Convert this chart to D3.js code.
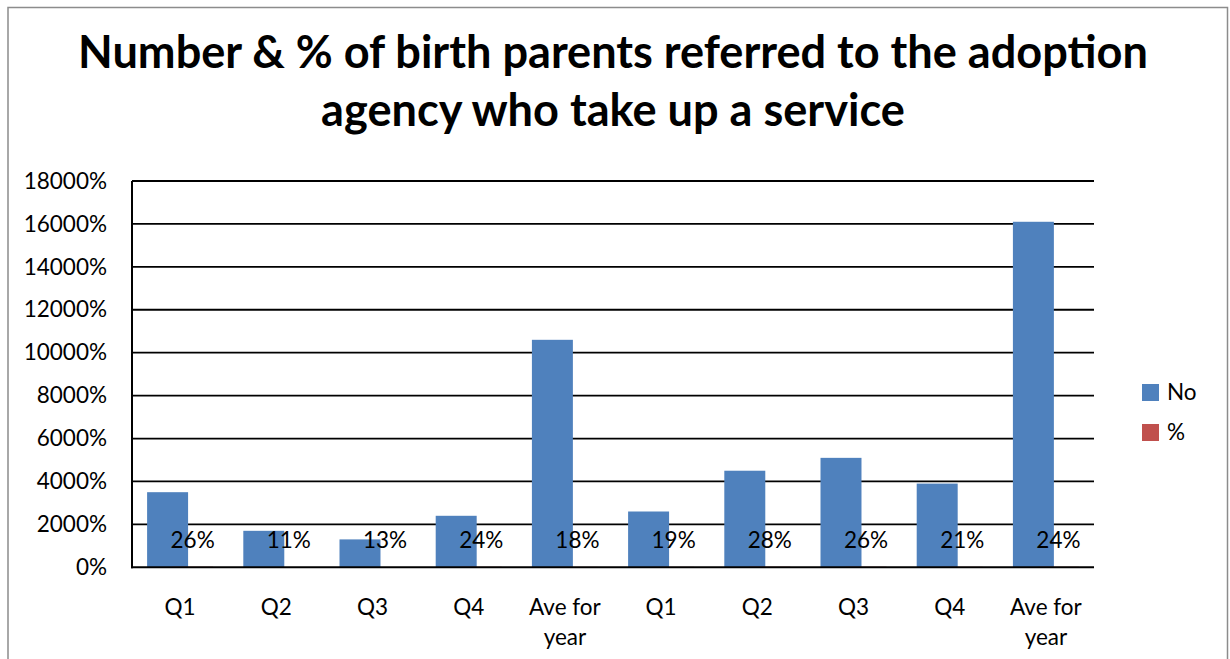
<!DOCTYPE html>
<html>
<head>
<meta charset="utf-8">
<script src="https://cdn.jsdelivr.net/npm/d3@7"></script>
<style>
  body { margin: 0; background: #fff; }
  svg { display: block; font-family: Lato, "Open Sans", sans-serif; }
</style>
</head>
<body>
<div id="chart"></div>
<script>
// values
const categories = ["Q1", "Q2", "Q3", "Q4", "Ave for year", "Q1", "Q2", "Q3", "Q4", "Ave for year"];
const noValues = [35, 17, 13, 24, 106, 26, 45, 51, 39, 161];
const pctValues = [0.26, 0.11, 0.13, 0.24, 0.18, 0.19, 0.28, 0.26, 0.21, 0.24];
const yTicks = [0, 20, 40, 60, 80, 100, 120, 140, 160, 180];
const seriesNames = ["No", "%"];
const titleLines = ["Number & % of birth parents referred to the adoption", "agency who take up a service"];

var width = 1230, height = 659;
var margin = {top: 181, right: 136, bottom: 92, left: 132};
var colors = ["#4F81BD", "#C0504D"];
var pctFmt = d3.format(".0%");
var fs = "22.5px";

const svg = d3.select("#chart").append("svg")
    .attr("width", width)
    .attr("height", height);

// chart frame
svg.append("rect")
    .attr("x", 8).attr("y", 7.5)
    .attr("width", 1219.5).attr("height", 670)
    .attr("fill", "#fff")
    .attr("stroke", "#8c8c8c")
    .attr("stroke-width", 1.5);

// title, sized so the first line spans the same width as the original
const title = svg.append("g");
titleLines.forEach((t, i) => {
  title.append("text")
    .attr("x", 613)
    .attr("y", 68 + i * 58)
    .attr("text-anchor", "middle")
    .style("font-weight", "bold")
    .style("font-size", "42px")
    .text(t);
});
var w0 = title.select("text").node().getComputedTextLength();
title.selectAll("text").style("font-size", (42 * 1070 / w0) + "px");

const x = d3.scaleBand()
    .domain(d3.range(categories.length))
    .range([margin.left, width - margin.right]);

const y = d3.scaleLinear()
    .domain([0, 180])
    .range([height - margin.bottom + 0.3, margin.top]);

// gridlines
svg.append("g")
  .selectAll("line")
  .data(yTicks.slice(1))
  .enter().append("line")
    .attr("x1", margin.left).attr("x2", width - margin.right)
    .attr("y1", d => y(d)).attr("y2", d => y(d))
    .attr("stroke", "#000")
    .attr("stroke-width", 1.8);

// y axis labels
const yAxis = svg.append("g")
    .attr("transform", `translate(${margin.left},0)`)
    .call(d3.axisLeft(y).tickValues(yTicks).tickSize(0).tickPadding(25).tickFormat(pctFmt));
yAxis.select(".domain").remove();
yAxis.selectAll("text")
    .style("font-family", "Lato, sans-serif")
    .style("font-size", fs)
    .attr("fill", "#000");

var bw = x.bandwidth();
var barW = bw * 0.426;
var shift = bw * 0.13;

// "No" bars
svg.append("g")
  .selectAll("rect")
  .data(noValues)
  .enter().append("rect")
    .attr("x", (d, i) => x(i) + bw / 2 - shift - barW / 2)
    .attr("width", barW)
    .attr("y", d => y(d))
    .attr("height", d => y(0) - y(d))
    .attr("fill", colors[0]);

// "%" bars (tiny at this scale)
svg.append("g")
  .selectAll("rect")
  .data(pctValues)
  .enter().append("rect")
    .attr("x", (d, i) => x(i) + bw / 2 + shift - barW / 2)
    .attr("width", barW)
    .attr("y", d => y(d))
    .attr("height", d => y(0) - y(d))
    .attr("fill", colors[1]);

// % data labels
svg.append("g")
  .selectAll("text")
  .data(pctValues)
  .enter().append("text")
    .attr("x", (d, i) => x(i) + bw / 2 + shift)
    .attr("y", d => y(0) - 19)
    .attr("text-anchor", "middle")
    .style("font-size", fs)
    .text(d => pctFmt(d));

// axis lines
svg.append("line")
    .attr("x1", margin.left).attr("x2", margin.left)
    .attr("y1", margin.top).attr("y2", y(0) + 1)
    .attr("stroke", "#000").attr("stroke-width", 2);
svg.append("line")
    .attr("x1", margin.left - 1).attr("x2", width - margin.right)
    .attr("y1", y(0)).attr("y2", y(0))
    .attr("stroke", "#000").attr("stroke-width", 2);

// category labels
const xLab = svg.append("g")
  .selectAll("text")
  .data(categories)
  .enter().append("text")
    .attr("x", (d, i) => x(i) + bw / 2)
    .attr("y", 615)
    .attr("text-anchor", "middle")
    .style("font-size", fs)
    .text(d => d)
    .call(wrap, bw - 10);

function wrap(text, maxW) {
  text.each(function() {
    var t = d3.select(this),
        words = t.text().split(/\s+/).reverse(),
        word, line = [],
        xx = t.attr("x"), yy = t.attr("y"),
        tspan = t.text(null).append("tspan").attr("x", xx).attr("y", yy);
    var n = 0;
    while (word = words.pop()) {
      line.push(word);
      tspan.text(line.join(" "));
      if (tspan.node().getComputedTextLength() > maxW && line.length > 1) {
        line.pop();
        tspan.text(line.join(" "));
        line = [word];
        n++;
        tspan = t.append("tspan").attr("x", xx).attr("y", +yy + n * 30).text(word);
      }
    }
  });
}

// legend
const legend = svg.append("g")
  .selectAll("g")
  .data(seriesNames)
  .enter().append("g")
    .attr("transform", (d, i) => `translate(1142,${384 + i * 40})`);
legend.append("rect")
    .attr("width", 17).attr("height", 17)
    .attr("fill", (d, i) => colors[i]);
legend.append("text")
    .attr("x", 25).attr("y", 16)
    .style("font-size", fs)
    .text(d => d);
</script>
</body>
</html>
